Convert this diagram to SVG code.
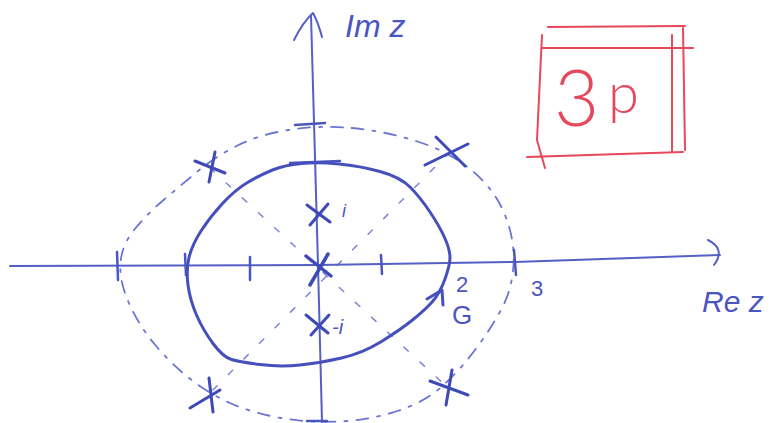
<svg xmlns="http://www.w3.org/2000/svg" width="774" height="423" viewBox="0 0 774 423">
<style>
.ax{fill:none;stroke:#5560c6;stroke-width:2;stroke-linecap:round;stroke-linejoin:round}
.tk{fill:none;stroke:#4a55c0;stroke-width:2.5;stroke-linecap:round}
.ct{fill:none;stroke:#4650bd;stroke-width:3;stroke-linecap:round;stroke-linejoin:round}
.dash{fill:none;stroke:#6a76d2;stroke-width:1.8;stroke-dasharray:12 9 3 9;stroke-linecap:round}
.diag{fill:none;stroke:#7b86d8;stroke-width:1.5;stroke-dasharray:6 16;stroke-linecap:round}
.x{fill:none;stroke:#3f4ab8;stroke-width:3;stroke-linecap:round}
.lb{font-family:"Liberation Sans",Arial,sans-serif;fill:#4a55c0}
.rd{fill:none;stroke:#e8485c;stroke-width:2;stroke-linecap:round;stroke-linejoin:round}
</style>
<g id="dashed-circle">
<path class="dash" d="M351.5,128 Q385,131 417.5,141.5 Q450,152 472.5,171 Q495,190 505,215 Q515,240 513.5,265 Q512,290 501,310 Q490,330 475,350 Q460,370 442.5,386 Q425,402 397.5,411 Q370,420 340,421.5 Q310,423 281,418 Q252,413 230,403 Q208,393 189,378 Q170,363 154,343.5 Q138,324 128.5,302 Q119,280 120.5,262.5 Q122,245 134,230 Q146,215 163,200.5 Q180,186 197.5,171.5 Q215,157 236.5,146 Q258,135 288,130 Q318,125 351.5,128 Z"/>
<line class="diag" x1="210" y1="168" x2="447" y2="387"/>
<line class="diag" x1="450" y1="152" x2="208" y2="395"/>
</g>
<g id="axes">
<polyline class="ax" points="10,266 318,265 515,262 720,255"/>
<path class="ax" d="M708,240 Q726,249 714,265"/>
<polyline class="ax" points="322,422 318,265 311,15"/>
<path class="ax" d="M294,40 Q303,22 313,13 Q318,22 322,37"/>
<path class="tk" d="M117,252 L118,280 M185,254 L186,275 M250,257 L250,280 M381,255 L382,274 M514,250 L516,275"/>
<path class="tk" d="M295,125 L325,123 M290,163 L340,161 M307,421 L327,421"/>
</g>
<g id="contour">
<path class="ct" d="M450,257.5 Q450,250 445,238.5 Q440,227 430,212 Q420,197 410,187 Q400,177 380,171.5 Q360,166 339,164 Q318,162 301.5,163.5 Q285,165 272.5,170 Q260,175 247.5,182.5 Q235,190 222.5,203.5 Q210,217 201,231 Q192,245 189,257.5 Q186,270 188,285 Q190,300 196.5,315 Q203,330 213,343.5 Q223,357 231.5,359.5 Q240,362 260,364.5 Q280,367 300,365 Q320,363 341.5,358 Q363,353 381.5,341.5 Q400,330 412.5,320 Q425,310 432.5,301.5 Q440,293 445,279 Q450,265 450,257.5 Z"/>
<path class="ct" d="M427,299 L442,290 L443,305"/>
</g>
<g id="poles">
<path class="x" d="M195,161 L225,173 M215,152 L209,182"/>
<path class="x" d="M425,165 L468,144 M436,137 L465,166"/>
<path class="x" d="M190,408 L220,390 M209,378 L213,412"/>
<path class="x" d="M430,381 L468,395 M452,370 L446,405"/>
<path class="x" d="M306,256 L331,276 M328,254 L310,285" style="stroke-width:3.5"/>
<path class="x" d="M307,205 L330,222 M328,204 L310,225"/>
<path class="x" d="M306,315 L328,333 M329,315 L311,335"/>
</g>
<g id="labels">
<text class="lb" x="345" y="37" font-size="32" font-style="italic">Im z</text>
<text class="lb" x="702" y="312" font-size="30" font-style="italic">Re z</text>
<text class="lb" x="456" y="292" font-size="22">2</text>
<text class="lb" x="531" y="296" font-size="22">3</text>
<text class="lb" x="452" y="324" font-size="26">G</text>
<text class="lb" x="342" y="217" font-size="18" font-style="italic">i</text>
<text class="lb" x="332" y="334" font-size="20" font-style="italic">-i</text>
</g>
<g id="box">
<path class="rd" d="M548,27 L685,26 M542,48 L693,48 M527,157 L683,152 M542,35 L537,140 L545,168 M672,35 L672,152 M683,27 L685,150"/>
<text font-family="Lato,'Liberation Sans',sans-serif" font-weight="300" fill="#e8485c"><tspan x="554" y="126" font-size="78">3</tspan><tspan x="608" y="113" font-size="56">p</tspan></text>
</g>
</svg>
